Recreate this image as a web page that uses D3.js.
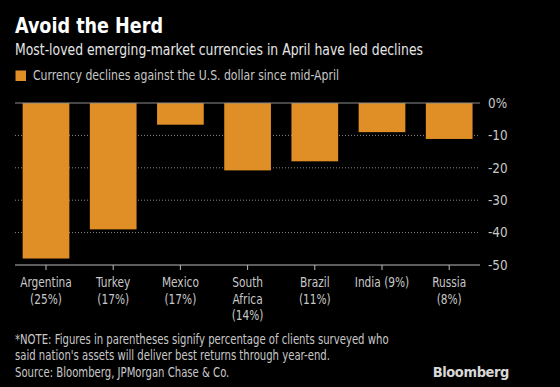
<!DOCTYPE html>
<html><head><meta charset="utf-8">
<script src="https://cdn.jsdelivr.net/npm/d3@7"></script>
<style>
html,body{margin:0;padding:0;background:#000;}
svg{display:block;}
text{font-family:"DejaVu Sans Condensed","DejaVu Sans",sans-serif;}
</style></head>
<body>
<script>
const categories = ["Argentina (25%)", "Turkey (17%)", "Mexico (17%)", "South Africa (14%)", "Brazil (11%)", "India (9%)", "Russia (8%)"];
const categoryLines = [["Argentina","(25%)"],["Turkey","(17%)"],["Mexico","(17%)"],["South","Africa","(14%)"],["Brazil","(11%)"],["India (9%)"],["Russia","(8%)"]];
const values = [-48.0, -39.0, -6.7, -20.8, -18.0, -9.0, -11.1];
const yTicks = [0, -10, -20, -30, -40, -50];
const yTickLabels = ["0%", "-10", "-20", "-30", "-40", "-50"];

const W = 560, H = 387;
const svg = d3.select("body").append("svg").attr("width", W).attr("height", H);
svg.append("rect").attr("width", W).attr("height", H).attr("fill", "#000");

const x = d3.scaleBand().domain(categories).range([12.4, 482.8]).paddingInner(0.305).paddingOuter(0.1525);
const y = d3.scaleLinear().domain([-50, 0]).range([265, 103]);
const plotL = 15, plotR = 480;

function fit(sel, w) {
  const n = sel.node();
  if (n.getComputedTextLength() > w) sel.attr("textLength", w).attr("lengthAdjust", "spacingAndGlyphs");
  return sel;
}

// title
fit(svg.append("text").attr("x", 15).attr("y", 33).attr("fill", "#fff")
  .attr("font-size", 21).attr("font-weight", "bold").text("Avoid the Herd"), 148);
fit(svg.append("text").attr("x", 15).attr("y", 55).attr("fill", "#e6e6e6")
  .attr("font-size", 15).text("Most-loved emerging-market currencies in April have led declines"), 408);
// legend
svg.append("rect").attr("x", 15.5).attr("y", 70.5).attr("width", 10.5).attr("height", 10.5).attr("fill", "#e08e26");
fit(svg.append("text").attr("x", 33).attr("y", 79.5).attr("fill", "#c8c8c8")
  .attr("font-size", 13.4).text("Currency declines against the U.S. dollar since mid-April"), 306);

// gridlines
svg.append("g").selectAll("line").data(yTicks.filter(d => d !== 0 && d !== -50)).join("line")
  .attr("x1", plotL).attr("x2", plotR).attr("y1", d => y(d)).attr("y2", d => y(d))
  .attr("stroke", "#8a8a8a").attr("stroke-width", 1).attr("stroke-dasharray", "1,2");

// bars
svg.append("g").selectAll("rect").data(values).join("rect")
  .attr("x", (d, i) => x(categories[i]))
  .attr("width", x.bandwidth())
  .attr("y", d => y(Math.max(0, d)))
  .attr("height", d => Math.abs(y(d) - y(0)))
  .attr("fill", "#e08e26");

// zero line
svg.append("line").attr("x1", plotL).attr("x2", plotR).attr("y1", y(0)).attr("y2", y(0))
  .attr("stroke", "#8c8c8c").attr("stroke-width", 1);

// bottom axis
const xAxis = d3.axisBottom(x).tickSize(5).tickFormat("");
const gx = svg.append("g").attr("transform", `translate(0,${y(-50)})`).call(xAxis);
gx.select(".domain").remove();
gx.selectAll(".tick line").attr("stroke", "#bbb");
svg.append("line").attr("x1", plotL).attr("x2", plotR).attr("y1", y(-50)).attr("y2", y(-50))
  .attr("stroke", "#bbb").attr("stroke-width", 1);

// x labels
const lab = svg.append("g");
categories.forEach((c, i) => {
  const cx = x(c) + x.bandwidth() / 2;
  categoryLines[i].forEach((ln, j) => {
    const t = lab.append("text").attr("x", cx).attr("y", 287 + j * 16.6).attr("text-anchor", "middle")
      .attr("fill", "#c8c8c8").attr("font-size", 13.4).text(ln);
    const w = t.node().getComputedTextLength();
    t.attr("textLength", w * 0.88).attr("lengthAdjust", "spacingAndGlyphs");
  });
});

// y axis labels
const yAxis = d3.axisRight(y).tickValues(yTicks).tickSize(0).tickPadding(0)
  .tickFormat((d, i) => yTickLabels[i]);
const gy = svg.append("g").attr("transform", `translate(488,0)`).call(yAxis);
gy.select(".domain").remove();
gy.selectAll("text").attr("fill", "#c8c8c8").attr("font-size", 13.4)
  .attr("font-family", '"DejaVu Sans Condensed","DejaVu Sans",sans-serif');

// notes
const notes = ["*NOTE: Figures in parentheses signify percentage of clients surveyed who",
  "said nation's assets will deliver best returns through year-end.",
  "Source: Bloomberg, JPMorgan Chase & Co."];
const noteW = [399, 0, 0];
notes.forEach((n, i) => {
  const t = svg.append("text").attr("x", 15).attr("y", 343.5 + i * 16.6).attr("fill", "#c8c8c8")
    .attr("font-size", 13.2).text(n);
  const w = t.node().getComputedTextLength();
  t.attr("textLength", w * 0.851).attr("lengthAdjust", "spacingAndGlyphs");
});
svg.append("text").attr("x", 509).attr("y", 376.5).attr("text-anchor", "end")
  .attr("fill", "#d8d8d8").attr("font-size", 14.5).attr("font-weight", "bold")
  .attr("font-family", "Liberation Sans, Arial, sans-serif").attr("letter-spacing", -0.4).text("Bloomberg");
</script>
</body></html>
